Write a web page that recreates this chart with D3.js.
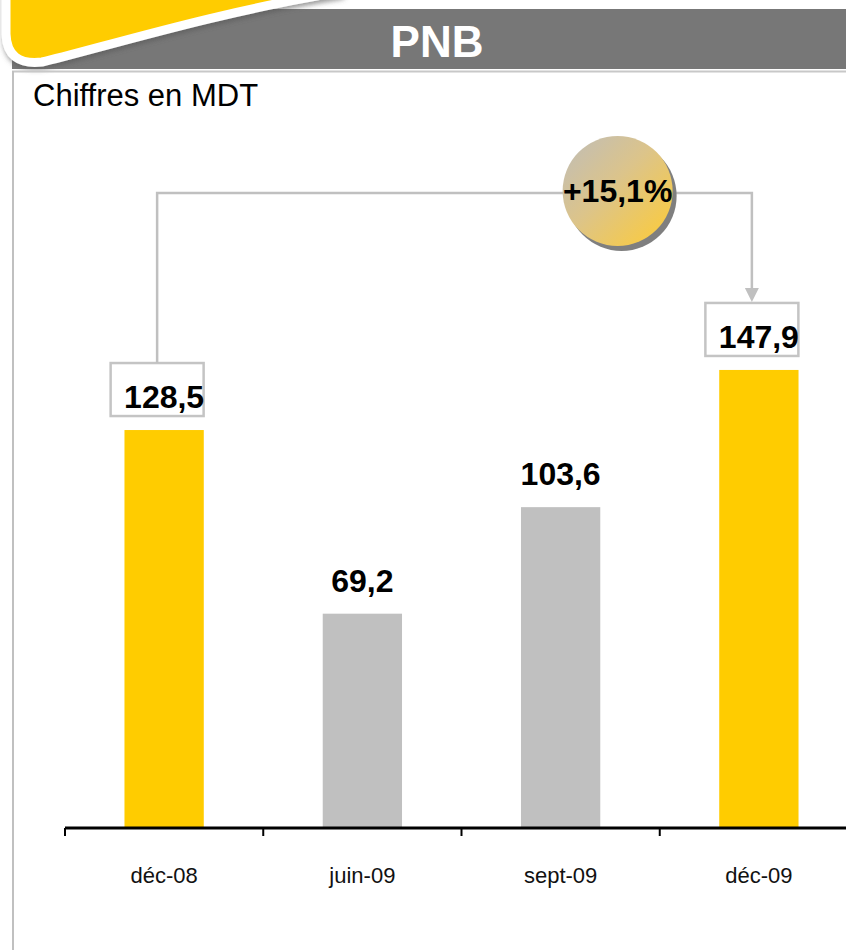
<!DOCTYPE html>
<html>
<head>
<meta charset="utf-8">
<script src="https://cdn.jsdelivr.net/npm/d3@7"></script>
<style>
  body { margin: 0; background: #fff; }
  svg { display: block; font-family: "Liberation Sans", Arial, sans-serif; }
</style>
</head>
<body>
<div id="chart"></div>
<script>
// data
const categories = ["déc-08", "juin-09", "sept-09", "déc-09"]
const values = [128.5, 69.2, 103.6, 147.9]
const highlighted = [true, false, false, true]
const title = "PNB"
const subtitle = "Chiffres en MDT"

const width = 846
const height = 950

const locale = d3.formatLocale({ decimal: ",", thousands: " ", grouping: [3], currency: ["", ""] })
const fmt = locale.format(".1f")
const pct = locale.format("+.1%")

const svg = d3.select("#chart").append("svg")
  .attr("width", width)
  .attr("height", height)

const defs = svg.append("defs")
const grad = defs.append("linearGradient")
  .attr("id", "bubble")
  .attr("x1", 0).attr("y1", 0).attr("x2", 1).attr("y2", 1)
grad.append("stop").attr("offset", "0%").attr("stop-color", "#bfbdb9")
grad.append("stop").attr("offset", "45%").attr("stop-color", "#dcc48a")
grad.append("stop").attr("offset", "100%").attr("stop-color", "#ffcc33")

defs.append("filter").attr("id", "tabShadow")
  .attr("x", "-10%").attr("y", "-10%").attr("width", "130%").attr("height", "160%")
  .append("feDropShadow")
  .attr("dx", 1).attr("dy", 3).attr("stdDeviation", 2.5)
  .attr("flood-color", "#555").attr("flood-opacity", 0.6)

// header band
svg.append("rect")
  .attr("x", 12).attr("y", 9)
  .attr("width", width - 12).attr("height", 60)
  .attr("fill", "#777777")

// yellow tab on the top left
svg.append("path")
  .attr("d", "M6,-8 L6,34 Q7,66 42,62 C90,51 220,11 340,-8 Z")
  .attr("fill", "#ffcc00")
  .attr("stroke", "#ffffff")
  .attr("stroke-width", 9)
  .attr("stroke-linejoin", "round")
  .attr("filter", "url(#tabShadow)")

svg.append("text")
  .attr("x", 437).attr("y", 57)
  .attr("text-anchor", "middle")
  .attr("fill", "#ffffff")
  .attr("font-weight", "bold")
  .attr("font-size", 44)
  .text(title)

// frame
svg.append("line")
  .attr("x1", 12).attr("x2", width)
  .attr("y1", 71.5).attr("y2", 71.5)
  .attr("stroke", "#c8c8c8").attr("stroke-width", 2)
svg.append("line")
  .attr("x1", 13).attr("x2", 13)
  .attr("y1", 71).attr("y2", height)
  .attr("stroke", "#c0c0c0").attr("stroke-width", 2)

svg.append("text")
  .attr("x", 33).attr("y", 106)
  .attr("font-size", 31)
  .attr("fill", "#000")
  .text(subtitle)

// scales
const x = d3.scaleBand()
  .domain(categories)
  .range([65, 858])
  .paddingInner(0.6)
  .paddingOuter(0.3)

const y = d3.scaleLinear()
  .domain([0, 160])
  .range([828, 828 - 160 * 3.097])

const step = x.step()
const xc = c => x(c) + x.bandwidth() / 2

// bars
svg.selectAll("rect.bar")
  .data(categories)
  .enter()
  .append("rect")
    .attr("class", "bar")
    .attr("x", d => x(d))
    .attr("y", (d, i) => y(values[i]))
    .attr("width", x.bandwidth())
    .attr("height", (d, i) => y(0) - y(values[i]))
    .attr("fill", (d, i) => highlighted[i] ? "#ffcc00" : "#c0c0c0")

// axis line and ticks at band boundaries
svg.append("line")
  .attr("x1", 65).attr("x2", width)
  .attr("y1", y(0)).attr("y2", y(0))
  .attr("stroke", "#000").attr("stroke-width", 3)

const boundaries = categories.map(c => x(c) - step * x.paddingOuter()).concat([x.range()[1]])
svg.selectAll("line.tick")
  .data(boundaries)
  .enter()
  .append("line")
    .attr("class", "tick")
    .attr("x1", d => d).attr("x2", d => d)
    .attr("y1", y(0)).attr("y2", y(0) + 8)
    .attr("stroke", "#000").attr("stroke-width", 2)

svg.selectAll("text.cat")
  .data(categories)
  .enter()
  .append("text")
    .attr("class", "cat")
    .attr("x", d => xc(d))
    .attr("y", 883)
    .attr("text-anchor", "middle")
    .attr("font-size", 22)
    .attr("fill", "#111")
    .text(d => d)

// boxes for the compared bars
const boxW = 93, boxH = 53
const boxCx = c => xc(c) - 7
const boxTop = i => y(values[i]) - 67

const hiIdx = highlighted.map((h, i) => h ? i : -1).filter(i => i >= 0)

svg.selectAll("rect.box")
  .data(hiIdx)
  .enter()
  .append("rect")
    .attr("class", "box")
    .attr("x", i => boxCx(categories[i]) - boxW / 2)
    .attr("y", i => boxTop(i))
    .attr("width", boxW)
    .attr("height", boxH)
    .attr("fill", "#fff")
    .attr("stroke", "#c4c4c4")
    .attr("stroke-width", 2.5)

// connector with arrow
const first = hiIdx[0], last = hiIdx[hiIdx.length - 1]
const x1 = boxCx(categories[first]), x2 = boxCx(categories[last])
const linkY = Math.min(boxTop(first), boxTop(last)) - 110
const tipY = boxTop(last) - 1

svg.append("path")
  .attr("d", `M${x1},${boxTop(first)} L${x1},${linkY} L${x2},${linkY} L${x2},${tipY - 13}`)
  .attr("fill", "none")
  .attr("stroke", "#c0c0c0")
  .attr("stroke-width", 2.5)

svg.append("path")
  .attr("d", `M${x2 - 7},${tipY - 14} L${x2 + 7},${tipY - 14} L${x2},${tipY} Z`)
  .attr("fill", "#c0c0c0")

// value labels
svg.selectAll("text.val")
  .data(categories)
  .enter()
  .append("text")
    .attr("class", "val")
    .attr("x", d => xc(d))
    .attr("y", (d, i) => y(values[i]) - 22)
    .attr("text-anchor", "middle")
    .attr("font-size", 32)
    .attr("font-weight", "bold")
    .attr("fill", "#000")
    .text((d, i) => fmt(values[i]))

// growth bubble
const growth = values[last] / values[first] - 1
const cx = xc("sept-09") + 57
const cy = linkY - 2
const r = 55

svg.append("circle")
  .attr("cx", cx + 4).attr("cy", cy + 5).attr("r", r)
  .attr("fill", "#7f7f7f")
svg.append("circle")
  .attr("cx", cx).attr("cy", cy).attr("r", r)
  .attr("fill", "url(#bubble)")
svg.append("text")
  .attr("x", cx).attr("y", cy + 11)
  .attr("text-anchor", "middle")
  .attr("font-size", 32)
  .attr("font-weight", "bold")
  .attr("fill", "#000")
  .text(pct(growth))
</script>
</body>
</html>
